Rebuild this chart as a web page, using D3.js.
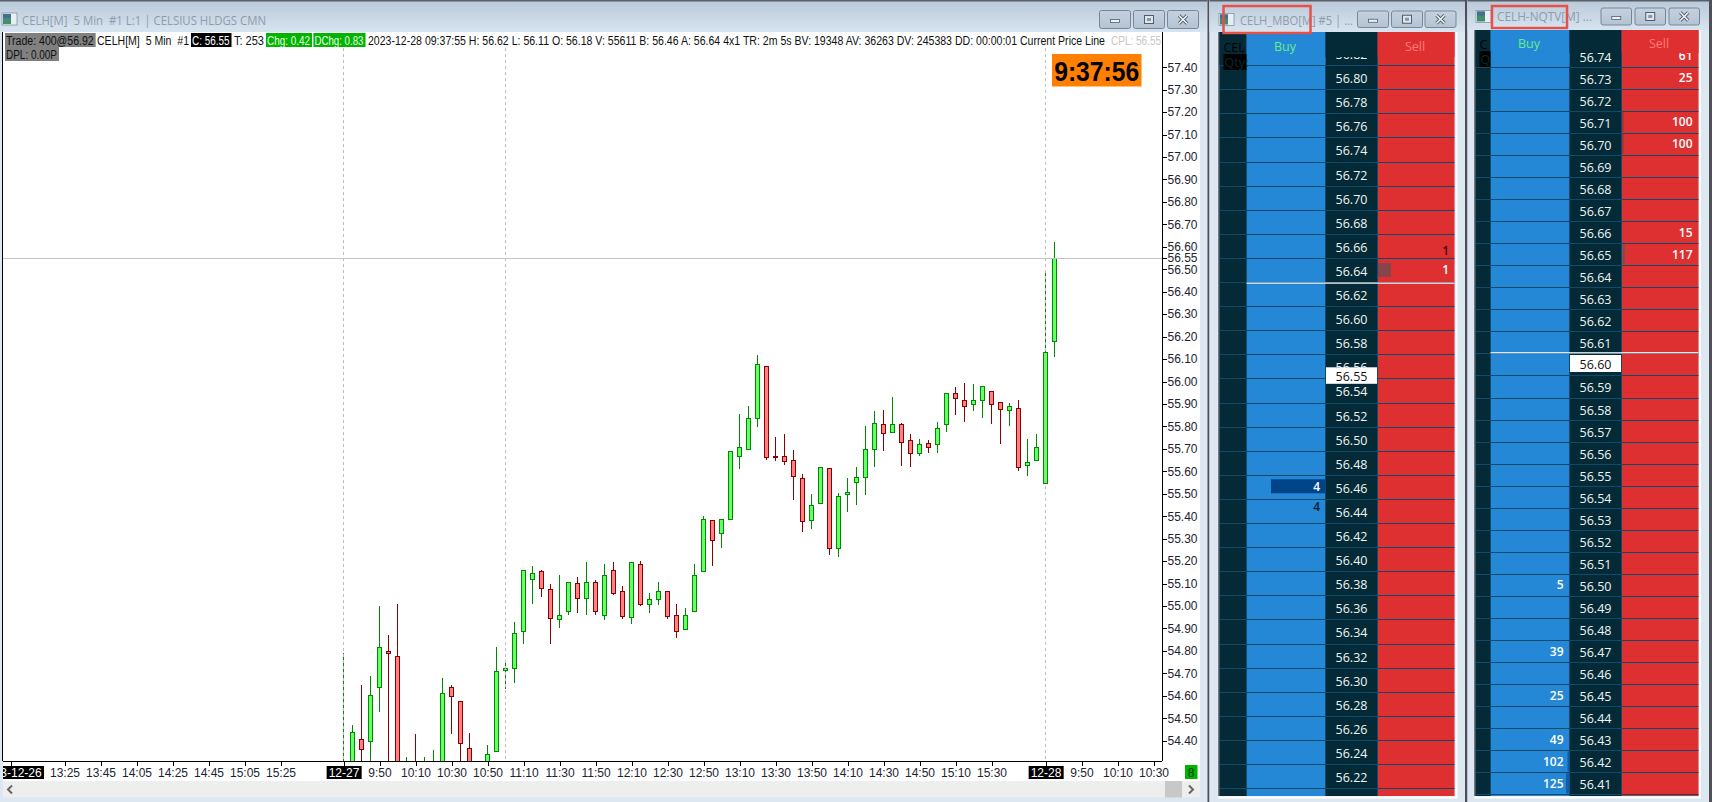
<!DOCTYPE html>
<html>
<head>
<meta charset="utf-8">
<script src="https://d3js.org/d3.v7.min.js"></script>
<style>
  html, body { margin: 0; padding: 0; background: #dce7f2; overflow: hidden; }
  svg { display: block; }
  text { font-family: 'Liberation Sans Narrow', 'Liberation Sans', Arial, sans-serif; }
  .ui text, text.ui { font-family: 'Open Sans', 'Noto Sans', sans-serif; }
</style>
</head>
<body>
<div id="chart"></div>
<script>
// candles: bar number counts 5 min bars from the 12-27 open
const barOpen = [54.10, 54.25, 54.405, 54.395, 54.635, 54.797, 54.775, 54.20, 54.25, 54.20, 54.20, 54.20, 54.637, 54.574, 54.365, 54.25,
  54.20, 54.352, 54.712, 54.721, 54.886, 55.118, 55.153, 55.073, 54.94, 54.975, 55.10, 55.033, 55.104, 54.957, 55.158, 55.064,
  54.949, 55.185, 55.007, 55.029, 55.064, 54.958, 54.895, 54.975, 55.154, 55.381, 55.323, 55.385, 55.666, 55.697, 55.835, 56.067,
  55.666, 55.666, 55.648, 55.568, 55.381, 55.456, 55.612, 55.256, 55.497, 55.55, 55.572, 55.697, 55.808, 55.773, 55.808, 55.737,
  55.679, 55.723, 55.719, 55.808, 55.946, 55.915, 55.897, 55.915, 55.955, 55.906, 55.87, 55.879, 55.625, 55.647, 55.545, 56.18];
const barHigh = [54.79, 54.469, 54.647, 54.687, 55.00, 54.87, 55.008, 54.326, 54.429, 54.326, 54.358, 54.678, 54.647, 54.574, 54.433, 54.28,
  54.38, 54.816, 54.751, 54.928, 55.158, 55.176, 55.159, 55.097, 55.137, 55.104, 55.127, 55.198, 55.118, 55.186, 55.194, 55.088,
  55.194, 55.20, 55.06, 55.105, 55.064, 55.007, 54.989, 55.186, 55.399, 55.385, 55.385, 55.688, 55.857, 55.89, 56.117, 56.067,
  55.755, 55.764, 55.697, 55.586, 55.497, 55.617, 55.612, 55.505, 55.568, 55.621, 55.80, 55.868, 55.875, 55.929, 55.817, 55.768,
  55.745, 55.741, 55.818, 55.946, 55.977, 55.995, 55.99, 55.977, 55.955, 55.906, 55.906, 55.919, 55.745, 55.768, 56.488, 56.62];
const barLow = [54.00, 54.20, 54.25, 54.28, 54.527, 54.25, 54.15, 54.10, 54.10, 54.10, 54.10, 54.10, 54.429, 54.25, 54.15, 54.15,
  54.10, 54.352, 54.63, 54.658, 54.831, 55.009, 55.041, 54.831, 54.902, 54.962, 54.969, 54.962, 54.962, 54.938, 55.05, 54.944,
  54.92, 55.00, 54.97, 55.005, 54.944, 54.858, 54.895, 54.975, 55.154, 55.179, 55.259, 55.385, 55.611, 55.697, 55.798, 55.652,
  55.648, 55.63, 55.473, 55.33, 55.344, 55.456, 55.228, 55.219, 55.419, 55.451, 55.495, 55.62, 55.691, 55.773, 55.624, 55.619,
  55.67, 55.683, 55.683, 55.777, 55.851, 55.82, 55.869, 55.838, 55.811, 55.722, 55.802, 55.601, 55.579, 55.647, 55.545, 56.11];
const barClose = [54.25, 54.436, 54.363, 54.601, 54.815, 54.788, 54.20, 54.28, 54.20, 54.28, 54.30, 54.61, 54.597, 54.387, 54.20, 54.20,
  54.338, 54.708, 54.721, 54.877, 55.158, 55.145, 55.078, 54.944, 54.957, 55.104, 55.033, 55.104, 54.975, 55.136, 55.055, 54.953,
  55.194, 55.007, 55.029, 55.064, 54.953, 54.886, 54.958, 55.136, 55.385, 55.292, 55.385, 55.688, 55.706, 55.835, 56.076, 55.661,
  55.661, 55.644, 55.577, 55.376, 55.448, 55.617, 55.256, 55.488, 55.505, 55.572, 55.697, 55.813, 55.768, 55.808, 55.728, 55.679,
  55.719, 55.705, 55.79, 55.946, 55.924, 55.888, 55.915, 55.977, 55.897, 55.875, 55.888, 55.616, 55.639, 55.705, 56.128, 56.55];

const priceTicks = [54.4, 54.5, 54.6, 54.7, 54.8, 54.9, 55.0, 55.1, 55.2, 55.3, 55.4, 55.5, 55.6, 55.7, 55.8, 55.9, 56.0, 56.1, 56.2,
  56.3, 56.4, 56.5, 56.6, 56.7, 56.8, 56.9, 57.0, 57.1, 57.2, 57.3, 57.4];
const lastPrice = 56.55;

const tickBars = [-37, -31, -27, -23, -19, -15, -11, -7, 0, 4, 8, 12, 16, 20, 24, 28, 32, 36, 40, 44, 48, 52, 56, 60, 64, 68, 72, 78, 82, 86, 90];
const tickLabels = ['2023-12-26', '13:25', '13:45', '14:05', '14:25', '14:45', '15:05', '15:25', '12-27', '9:50', '10:10', '10:30', '10:50',
  '11:10', '11:30', '11:50', '12:10', '12:30', '12:50', '13:10', '13:30', '13:50', '14:10', '14:30', '14:50', '15:10', '15:30', '12-28', '9:50', '10:10', '10:30'];
const dashedBars = [0, 18, 78];

const mboPrices = ['56.82', '56.80', '56.78', '56.76', '56.74', '56.72', '56.70', '56.68', '56.66', '56.64', '56.62', '56.60', '56.58', '56.56',
  '56.54', '56.52', '56.50', '56.48', '56.46', '56.44', '56.42', '56.40', '56.38', '56.36', '56.34', '56.32', '56.30', '56.28', '56.26', '56.24', '56.22', '56.20'];
const mboSellPrices = ['56.66', '56.64'];
const mboSellQty = [1, 1];
const mboBuyPrices = ['56.46', '56.44'];
const mboBuyQty = [4, 4];

const nqtvPrices = ['56.74', '56.73', '56.72', '56.71', '56.70', '56.69', '56.68', '56.67', '56.66', '56.65', '56.64', '56.63', '56.62', '56.61', '56.60',
  '56.59', '56.58', '56.57', '56.56', '56.55', '56.54', '56.53', '56.52', '56.51', '56.50', '56.49', '56.48', '56.47', '56.46', '56.45', '56.44', '56.43', '56.42', '56.41', '56.40'];
const nqtvSellPrices = ['56.74', '56.73', '56.71', '56.70', '56.66', '56.65'];
const nqtvSellQty = [61, 25, 100, 100, 15, 117];
const nqtvBuyPrices = ['56.50', '56.47', '56.45', '56.43', '56.42', '56.41'];
const nqtvBuyQty = [5, 39, 25, 49, 102, 125];

const W = 1712, H = 802;
const chart = { left: 3, right: 1162, top: 32, bottom: 761 };
const frameColor = '#dce7f2';

const svg = d3.select('#chart').append('svg').attr('width', W).attr('height', H).attr('viewBox', `0 0 ${W} ${H}`);

const defs = svg.append('defs');
const grad = defs.append('linearGradient').attr('id', 'titleGrad').attr('x1', 0).attr('x2', 0).attr('y1', 0).attr('y2', 1);
grad.append('stop').attr('offset', '0%').attr('stop-color', '#b9c8d8');
grad.append('stop').attr('offset', '100%').attr('stop-color', '#d7e4f0');
const btnGrad = defs.append('linearGradient').attr('id', 'btnGrad').attr('x1', 0).attr('x2', 0).attr('y1', 0).attr('y2', 1);
btnGrad.append('stop').attr('offset', '0%').attr('stop-color', '#c4d1df');
btnGrad.append('stop').attr('offset', '100%').attr('stop-color', '#b4c3d3');
defs.append('clipPath').attr('id', 'plotClip').append('rect')
  .attr('x', chart.left).attr('y', chart.top).attr('width', chart.right - chart.left).attr('height', chart.bottom - chart.top);
defs.append('clipPath').attr('id', 'axisClip').append('rect')
  .attr('x', chart.left).attr('y', chart.bottom).attr('width', chart.right - chart.left + 40).attr('height', 20);

function label(g, x, y, s, opts) {
  opts = opts || {};
  const t = g.append('text').attr('x', x).attr('y', y).text(s)
    .attr('font-size', opts.size || 12).attr('fill', opts.fill || '#111')
    .attr('text-anchor', opts.anchor || 'start').attr('dominant-baseline', 'central');
  if (opts.weight) t.attr('font-weight', opts.weight);
  if (opts.family) t.style('font-family', opts.family);
  if (opts.len) t.attr('textLength', opts.len).attr('lengthAdjust', 'spacingAndGlyphs');
  return t;
}

function windowFrame(x0, x1, titleH, iconX, buttons, btnY, btnH, btnW) {
  const g = svg.append('g').attr('class', 'ui');
  g.append('rect').attr('x', x0).attr('y', 0).attr('width', x1 - x0).attr('height', H).attr('fill', frameColor);
  g.append('rect').attr('x', x0).attr('y', 0).attr('width', x1 - x0).attr('height', titleH).attr('fill', 'url(#titleGrad)');
  g.append('rect').attr('x', x0).attr('y', 0).attr('width', x1 - x0).attr('height', 1.5).attr('fill', '#5a5f66');
  // icon
  const ic = g.append('g').attr('transform', `translate(${iconX},${btnY + 3})`);
  ic.append('rect').attr('width', 15).attr('height', 12).attr('fill', '#e8eef2').attr('stroke', '#7d8a94').attr('stroke-width', 0.7);
  ic.append('rect').attr('x', 1).attr('y', 1).attr('width', 8).attr('height', 10).attr('fill', '#3f8f6e');
  ic.append('rect').attr('x', 1).attr('y', 1).attr('width', 8).attr('height', 4).attr('fill', '#44708f');
  // window buttons
  buttons.forEach((bx, i) => {
    const b = g.append('g').attr('transform', `translate(${bx},${btnY})`);
    b.append('rect').attr('x', 0.5).attr('y', 0.5).attr('width', btnW).attr('height', btnH).attr('rx', 2)
      .attr('fill', 'url(#btnGrad)').attr('stroke', '#7a8696');
    const cx = btnW / 2 + 0.5, cy = btnH / 2 + 0.5;
    if (i === 0) {
      b.append('rect').attr('x', cx - 4.5).attr('y', cy).attr('width', 9).attr('height', 3).attr('fill', '#eef2f6').attr('stroke', '#4f5c6b').attr('stroke-width', 0.8);
    } else if (i === 1) {
      b.append('rect').attr('x', cx - 4.5).attr('y', cy - 4).attr('width', 9).attr('height', 8).attr('fill', '#dfe6ee').attr('stroke', '#4f5c6b');
      b.append('rect').attr('x', cx - 2).attr('y', cy - 1.5).attr('width', 4).attr('height', 3).attr('fill', '#8895a4');
    } else {
      b.append('path').attr('d', `M${cx - 4},${cy - 4}L${cx + 4},${cy + 4}M${cx + 4},${cy - 4}L${cx - 4},${cy + 4}`)
        .attr('stroke', '#4f5c6b').attr('stroke-width', 3.2);
      b.append('path').attr('d', `M${cx - 4},${cy - 4}L${cx + 4},${cy + 4}M${cx + 4},${cy - 4}L${cx - 4},${cy + 4}`)
        .attr('stroke', '#f0f3f6').attr('stroke-width', 1.6);
    }
  });
  return g;
}

// ---------- chart window ----------
const win = windowFrame(0, 1207.5, 32, 2, [1099, 1133, 1167], 10, 18, 31);
label(win, 22, 20, 'CELH[M]  5 Min  #1 L:1 | CELSIUS HLDGS CMN', { size: 12, fill: '#8f9ca9', len: 244 }).attr('xml:space', 'preserve');

svg.append('rect').attr('x', 3).attr('y', chart.top).attr('width', 1197).attr('height', 749).attr('fill', '#fff');
svg.append('rect').attr('x', 2).attr('y', chart.top).attr('width', 1).attr('height', 729).attr('fill', '#000');

const x = d3.scaleLinear().domain([0, 78]).range([343.5, 1045.5]);
const y = d3.scaleLinear().domain([54.4, 57.4]).range([740.7, 67.2]);

const plot = svg.append('g').attr('clip-path', 'url(#plotClip)').attr('shape-rendering', 'crispEdges');

const bars = d3.range(barOpen.length);
const isUp = i => barClose[i] >= barOpen[i];

plot.selectAll('line.wick').data(bars).enter().append('line')
  .attr('class', 'wick')
  .attr('x1', i => x(i)).attr('x2', i => x(i))
  .attr('y1', i => y(barHigh[i])).attr('y2', i => y(barLow[i]))
  .attr('stroke', i => isUp(i) ? '#008a00' : '#8b0000');

plot.selectAll('rect.body').data(bars).enter().append('rect')
  .attr('class', 'body')
  .attr('x', i => x(i) - 2).attr('width', 4)
  .attr('y', i => y(Math.max(barOpen[i], barClose[i])))
  .attr('height', i => Math.max(1, y(Math.min(barOpen[i], barClose[i])) - y(Math.max(barOpen[i], barClose[i]))))
  .attr('fill', i => isUp(i) ? '#66ff66' : '#ff8080')
  .attr('stroke', i => isUp(i) ? '#008a00' : '#8b0000');

// session lines go over the candles
plot.selectAll('line.session').data(dashedBars).enter().append('line')
  .attr('class', 'session')
  .attr('x1', d => x(d)).attr('x2', d => x(d))
  .attr('y1', 48).attr('y2', chart.bottom)
  .attr('stroke', '#bcbcbc').attr('stroke-dasharray', '3,3');

plot.append('line').attr('x1', chart.left).attr('x2', chart.right)
  .attr('y1', y(lastPrice)).attr('y2', y(lastPrice)).attr('stroke', '#c4c4c4');

// axes
const yAxis = svg.append('g').attr('transform', `translate(${chart.right + 0.5},0)`)
  .call(d3.axisRight(y).tickValues(priceTicks).tickSize(4).tickPadding(1).tickFormat(d3.format('.2f')));
yAxis.select('.domain').attr('d', `M0,${chart.top}V${chart.bottom}`).attr('stroke', '#000');
yAxis.selectAll('text').attr('font-size', 12).attr('fill', '#1b2430');
yAxis.selectAll('line').attr('stroke', '#000').attr('shape-rendering', 'crispEdges');

const lastTick = svg.append('g').attr('transform', `translate(${chart.right + 0.5},0)`)
  .call(d3.axisRight(y).tickValues([lastPrice]).tickSize(4).tickPadding(1).tickFormat(d3.format('.2f')));
lastTick.select('.domain').remove();
lastTick.selectAll('text').attr('font-size', 12).attr('fill', '#1b2430');
lastTick.selectAll('line').attr('stroke', '#000').attr('shape-rendering', 'crispEdges');
lastTick.selectAll('.tick').insert('rect', 'text').attr('x', 5).attr('y', -5).attr('width', 30).attr('height', 10).attr('fill', '#fff');

// clip sits on an outer group so the clip box stays in page pixels
const xAxis = svg.append('g').attr('clip-path', 'url(#axisClip)').append('g')
  .attr('transform', `translate(0,${chart.bottom + 0.5})`)
  .call(d3.axisBottom(x).tickValues(tickBars).tickSize(4).tickPadding(3)
    .tickFormat((d, i) => tickLabels[i]));
xAxis.select('.domain').remove();
xAxis.selectAll('text').attr('font-size', 12).attr('fill', '#1b2430');
xAxis.selectAll('line').attr('stroke', '#000').attr('shape-rendering', 'crispEdges');
xAxis.selectAll('.tick').filter(d => [-37, 0, 78].includes(d)).each(function () {
  const tick = d3.select(this), box = tick.select('text').node().getBBox();
  tick.insert('rect', 'text').attr('x', box.x - 2).attr('y', 4.5).attr('width', box.width + 4).attr('height', 13).attr('fill', '#000');
  tick.select('text').attr('fill', '#fff');
});
svg.append('line').attr('x1', chart.left).attr('x2', chart.right).attr('y1', chart.bottom + 0.5).attr('y2', chart.bottom + 0.5).attr('stroke', '#000');

// header line
const head = svg.append('g');
function chip(x0, x1, y0, y1, fill, s, color) {
  head.append('rect').attr('x', x0).attr('y', y0).attr('width', x1 - x0).attr('height', y1 - y0).attr('fill', fill);
  label(head, x0 + 1, (y0 + y1) / 2 + 0.5, s, { fill: color, size: 12, len: x1 - x0 - 3 });
}
chip(5, 95.7, 33, 47, '#808080', 'Trade: 400@56.92', '#111');
chip(5, 59, 47, 61, '#808080', 'DPL: 0.00P', '#111');
label(head, 97, 40.5, 'CELH[M]  5 Min  #1', { size: 12, len: 92 }).attr('xml:space', 'preserve');
chip(191, 231.5, 33, 47, '#000', 'C: 56.55', '#fff');
label(head, 234, 40.5, 'T: 253', { size: 12, len: 30 });
chip(266, 312, 33, 47, '#00b400', 'Chg: 0.42', '#e8ffe8');
chip(313.4, 365.5, 33, 47, '#00b400', 'DChg: 0.83', '#e8ffe8');
label(head, 368, 40.5, '2023-12-28 09:37:55 H: 56.62 L: 56.11 O: 56.18 V: 55611 B: 56.46 A: 56.64 4x1 TR: 2m 5s BV: 19348 AV: 36263 DV: 245383 DD: 00:00:01 Current Price Line', { size: 12, len: 737 });
label(head, 1111, 40.5, 'CPL: 56.55', { size: 12, fill: '#c8c8c8', len: 50 });

// clock
head.append('rect').attr('x', 1052).attr('y', 54).attr('width', 89.5).attr('height', 32.5).attr('fill', '#ff8000');
label(head, 1096.7, 71, '9:37:56', { size: 28, weight: 'bold', anchor: 'middle', fill: '#000', len: 85 });

// scroll bar row
const sb = svg.append('g');
sb.append('rect').attr('x', 3).attr('y', 781).attr('width', 1197).attr('height', 16.5).attr('fill', '#eeeeee');
sb.append('rect').attr('x', 1165).attr('y', 781).attr('width', 17).attr('height', 16.5).attr('fill', '#c8c8c8');
sb.append('path').attr('d', 'M12,785.5L8,789.5L12,793.5').attr('fill', 'none').attr('stroke', '#666').attr('stroke-width', 2);
sb.append('path').attr('d', 'M1189,785.5L1193,789.5L1189,793.5').attr('fill', 'none').attr('stroke', '#666').attr('stroke-width', 2);
sb.append('rect').attr('x', 1185).attr('y', 765).attr('width', 12.5).attr('height', 14).attr('fill', '#00b400');
label(sb, 1191, 772.5, '8', { anchor: 'middle', fill: '#0a3a0a' });

// ---------- depth ladders ----------
function drawLadder(cfg) {
  const g = svg.append('g').attr('class', 'ui').attr('clip-path', `url(#${cfg.clip})`);
  const c = cfg.cols;
  const rows = d3.scaleBand().domain(cfg.prices).range([cfg.rowsTop, cfg.rowsTop + cfg.prices.length * cfg.rowH]);
  const line = '#0f4a68';

  const colFill = ['#032a36', '#2488d6', '#032a36', '#de3030'];
  colFill.forEach((fill, k) => {
    g.append('rect').attr('x', c[k]).attr('y', cfg.top).attr('width', c[k + 1] - c[k]).attr('height', cfg.bottom - cfg.top).attr('fill', fill);
  });

  // one pixel grid between the rows and the columns
  g.selectAll('line.row').data(cfg.prices).enter().append('line')
    .attr('class', 'row')
    .attr('x1', c[0]).attr('x2', c[4])
    .attr('y1', p => Math.round(rows(p) + rows.bandwidth()) + 0.5)
    .attr('y2', p => Math.round(rows(p) + rows.bandwidth()) + 0.5)
    .attr('stroke', line);
  g.selectAll('line.col').data([c[1], c[2], c[3]]).enter().append('line')
    .attr('class', 'col')
    .attr('x1', d => d).attr('x2', d => d).attr('y1', cfg.top).attr('y2', cfg.bottom)
    .attr('stroke', line);

  g.selectAll('text.price').data(cfg.prices).enter().append('text')
    .attr('class', 'price')
    .attr('x', (c[2] + c[3]) / 2).attr('y', p => rows(p) + rows.bandwidth() / 2 + 1.5)
    .attr('text-anchor', 'middle').attr('dominant-baseline', 'central')
    .attr('font-size', 12.5).attr('fill', '#f0f4f4').text(p => p);

  // size markers sitting in the cells
  cfg.marks.forEach(m => {
    g.append('rect').attr('x', m.x).attr('width', m.w).attr('y', rows(m.price) + m.dy).attr('height', m.h).attr('fill', m.fill);
  });

  function qty(prices, values, xr, fill) {
    g.selectAll(null).data(prices).enter().append('text')
      .attr('x', xr).attr('y', (p, i) => rows(p) + rows.bandwidth() / 2 + (cfg.qtyDy ? cfg.qtyDy(p, i) : 0))
      .attr('text-anchor', 'end').attr('dominant-baseline', 'central')
      .attr('font-size', 12).attr('font-weight', 600)
      .attr('fill', (p, i) => fill(p, i)).text((p, i) => values[i]);
  }
  qty(cfg.sellPrices, cfg.sellQty, cfg.sellX, cfg.sellFill);
  qty(cfg.buyPrices, cfg.buyQty, cfg.buyX, cfg.buyFill);

  // header covers the top rows
  g.append('rect').attr('x', c[0]).attr('y', cfg.top).attr('width', c[1] - c[0]).attr('height', rows(cfg.prices[1]) - cfg.top).attr('fill', '#032a36');
  g.append('rect').attr('x', c[1]).attr('y', cfg.top).attr('width', c[2] - c[1]).attr('height', rows(cfg.prices[1]) - cfg.top).attr('fill', '#2488d6');
  g.append('rect').attr('x', c[2]).attr('y', cfg.top).attr('width', c[3] - c[2]).attr('height', cfg.priceCut - cfg.top).attr('fill', '#032a36');
  g.append('rect').attr('x', c[3]).attr('y', cfg.top).attr('width', c[4] - c[3]).attr('height', cfg.priceCut - cfg.top).attr('fill', '#de3030');
  label(g, c[0] + 4, cfg.headY + 1, cfg.corner1, { size: 12.5, fill: '#000' });
  g.append('rect').attr('x', c[0] + 4).attr('y', cfg.qtyY).attr('width', c[1] - c[0] - 4).attr('height', 16).attr('fill', '#000');
  label(g, c[0] + 5, cfg.qtyY + 8, cfg.corner2, { size: 12.5, fill: '#052a30' });
  label(g, cfg.buyHeadX, cfg.headY, 'Buy', { size: 12.5, fill: '#66ee88', anchor: 'middle' });
  label(g, cfg.sellHeadX, cfg.headY, 'Sell', { size: 12.5, fill: '#ff7a7a', anchor: 'middle' });

  // inside market line and last traded price
  g.append('rect').attr('x', c[1]).attr('y', cfg.lineY).attr('width', c[4] - c[1]).attr('height', 1.2).attr('fill', '#fff');
  g.append('rect').attr('x', c[2] + 0.5).attr('y', cfg.lastY).attr('width', c[3] - c[2] - 1).attr('height', cfg.lastH).attr('fill', '#fff');
  label(g, (c[2] + c[3]) / 2, cfg.lastY + cfg.lastH / 2 + 1, cfg.lastText, { size: 12.5, fill: '#111', anchor: 'middle' });
}

// dark gaps between the windows
svg.append('rect').attr('x', 1207.5).attr('width', 2).attr('height', H).attr('fill', '#4d5157');
svg.append('rect').attr('x', 1465).attr('width', 2.5).attr('height', H).attr('fill', '#4d5157');
svg.append('rect').attr('x', 1709).attr('width', 3).attr('height', H).attr('fill', '#4d5157');

const win2 = windowFrame(1209.5, 1465, 32, 1219, [1357, 1391, 1424.5], 10.5, 16.5, 31);
label(win2, 1240, 20, 'CELH_MBO[M] #5 | ...', { size: 12, fill: '#8f9ca9', len: 113 });
const win3 = windowFrame(1467.5, 1709, 30, 1476, [1600.5, 1634.5, 1668.5], 7.5, 17, 30.5);
label(win3, 1497, 16.5, 'CELH-NQTV[M] ...', { size: 12, fill: '#8f9ca9', len: 95 });

// thin white edge under and beside each ladder
svg.append('path').attr('d', 'M1218.5,797.5H1456.5V32').attr('fill', 'none').attr('stroke', '#fff').attr('stroke-width', 2);
svg.append('path').attr('d', 'M1474.5,797.5H1700V30').attr('fill', 'none').attr('stroke', '#fff').attr('stroke-width', 2);
svg.append('rect').attr('x', 1218.5).attr('y', 32).attr('width', 1).attr('height', 764).attr('fill', '#111');
svg.append('rect').attr('x', 1474.5).attr('y', 30).attr('width', 1).attr('height', 766).attr('fill', '#111');

defs.append('clipPath').attr('id', 'mboClip').append('rect').attr('x', 1219).attr('y', 32).attr('width', 236).attr('height', 764);
defs.append('clipPath').attr('id', 'nqtvClip').append('rect').attr('x', 1475).attr('y', 30).attr('width', 224).attr('height', 766);

drawLadder({
  clip: 'mboClip', cols: [1219.5, 1246.5, 1325.5, 1377.5, 1454.5], top: 32, bottom: 796, rowsTop: 41, rowH: 24.1,
  prices: mboPrices, priceCut: 57, headY: 46.5, qtyY: 54, corner1: 'CEL', corner2: 'Qty:',
  buyHeadX: 1285, sellHeadX: 1415, sellX: 1449, buyX: 1320,
  sellPrices: mboSellPrices, sellQty: mboSellQty, buyPrices: mboBuyPrices, buyQty: mboBuyQty,
  sellFill: (p, i) => i === 0 ? '#3a0505' : '#fff', buyFill: (p, i) => i === 0 ? '#fff' : '#0a2030',
  qtyDy: (p, i) => (p === '56.66' ? 5 : p === '56.44' ? -4 : 0),
  marks: [
    { price: '56.64', x: 1378, w: 13, dy: 5, h: 14, fill: '#86454a' },
    { price: '56.46', x: 1271, w: 54, dy: 4.5, h: 14, fill: '#004488' }
  ],
  lineY: 282.5, lastY: 367.3, lastH: 16.5, lastText: '56.55'
});

drawLadder({
  clip: 'nqtvClip', cols: [1475.5, 1490.5, 1569.5, 1621.5, 1698.5], top: 30, bottom: 796, rowsTop: 44.7, rowH: 22.05,
  prices: nqtvPrices, priceCut: 53, headY: 43.3, qtyY: 51, corner1: 'C', corner2: 'Q',
  buyHeadX: 1529, sellHeadX: 1659, sellX: 1692.5, buyX: 1563.5,
  sellPrices: nqtvSellPrices, sellQty: nqtvSellQty, buyPrices: nqtvBuyPrices, buyQty: nqtvBuyQty,
  sellFill: () => '#fff', buyFill: () => '#fff',
  marks: [
    { price: '56.71', x: 1622, w: 1.5, dy: 1, h: 20, fill: '#a03038' },
    { price: '56.70', x: 1622, w: 1.5, dy: 1, h: 20, fill: '#a03038' },
    { price: '56.65', x: 1622, w: 3, dy: 1, h: 20, fill: '#8a4a50' },
    { price: '56.42', x: 1567.5, w: 2, dy: 1, h: 20, fill: '#0f5ea8' },
    { price: '56.41', x: 1566, w: 3.5, dy: 1, h: 20, fill: '#0f5ea8' }
  ],
  lineY: 352.2, lastY: 355, lastH: 17, lastText: '56.60'
});

// red markers around the window titles
svg.append('rect').attr('x', 1223.5).attr('y', 6).attr('width', 87).attr('height', 27).attr('fill', 'none').attr('stroke', '#e8504a').attr('stroke-width', 2.5);
svg.append('rect').attr('x', 1492).attr('y', 6).attr('width', 75).attr('height', 22).attr('fill', 'none').attr('stroke', '#e8504a').attr('stroke-width', 2.5);
</script>
</body>
</html>
